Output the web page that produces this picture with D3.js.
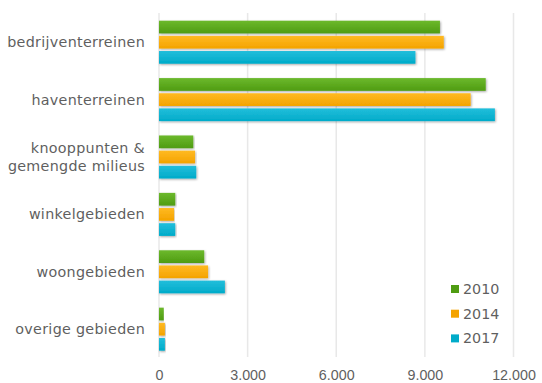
<!DOCTYPE html>
<html lang="nl">
<head>
<meta charset="UTF-8">
<title>Ruimtegebruik per type gebied</title>
<script src="https://cdnjs.cloudflare.com/ajax/libs/d3/7.8.5/d3.min.js"></script>
<style>
  body { margin:0; background:#fff; }
  svg { display:block; font-family:"DejaVu Sans", Verdana, sans-serif; }
  .lbl { fill:#5f5f5f; font-size:14.3px; }
  .cat { letter-spacing:0.3px; }
</style>
</head>
<body>
<svg id="chart" width="542" height="383"></svg>
<script>
  // categories (top to bottom) and values per year
  var categories = ["bedrijventerreinen", "haventerreinen", "knooppunten &\ngemengde milieus",
                    "winkelgebieden", "woongebieden", "overige gebieden"];
  var years = ["2010", "2014", "2017"];
  var values2010 = [9510, 11060, 1160, 550, 1530, 160];
  var values2014 = [9640, 10550, 1220, 510, 1660, 200];
  var values2017 = [8680, 11370, 1260, 550, 2230, 200];
  var xTicks = [0, 3000, 6000, 9000, 12000];

  var colors = { "2010": ["#6cb92c", "#4f9c12"], "2014": ["#ffba22", "#f4a300"], "2017": ["#22bedb", "#00abc9"] };
  var series = { "2010": values2010, "2014": values2014, "2017": values2017 };

  var svg = d3.select("#chart");
  var x = d3.scaleLinear().domain([0, 12000]).range([159, 513.5]);
  var y = d3.scaleBand().domain(categories).range([13, 358.4]).paddingInner(0.25).paddingOuter(0.134);
  var yInner = d3.scaleBand().domain(years).range([0, y.bandwidth()]).paddingInner(0.16);

  var nl = d3.formatLocale({ decimal: ",", thousands: ".", grouping: [3], currency: ["€", ""] });
  var fmt = nl.format(",");

  var defs = svg.append("defs");
  years.forEach(function (yr) {
    var g = defs.append("linearGradient").attr("id", "g" + yr)
      .attr("x1", 0).attr("y1", 0).attr("x2", 0).attr("y2", 1);
    g.append("stop").attr("offset", "0%").attr("stop-color", colors[yr][0]);
    g.append("stop").attr("offset", "100%").attr("stop-color", colors[yr][1]);
  });
  var f = defs.append("filter").attr("id", "shadow").attr("x", "-5%").attr("y", "-20%")
    .attr("width", "110%").attr("height", "160%");
  f.append("feDropShadow").attr("dx", 0.8).attr("dy", 1).attr("stdDeviation", 0.8)
    .attr("flood-color", "#000").attr("flood-opacity", 0.35);

  // gridlines
  svg.append("g").selectAll("line").data(xTicks).join("line")
    .attr("x1", d => x(d)).attr("x2", d => x(d))
    .attr("y1", 13).attr("y2", 357)
    .attr("stroke", "#e8e8e8").attr("stroke-width", 1.5);

  // x axis tick labels
  var xAxis = d3.axisBottom(x).tickValues(xTicks).tickFormat(fmt).tickSize(0).tickPadding(0);
  var ax = svg.append("g").attr("transform", "translate(0,369)").call(xAxis);
  ax.select(".domain").remove();
  ax.selectAll("text").attr("class", "lbl").attr("font-size", null).attr("font-family", null)
    .attr("dy", "0.75em");

  // bars
  years.forEach(function (yr) {
    svg.append("g").selectAll("rect").data(categories).join("rect")
      .attr("x", x(0))
      .attr("y", d => y(d) + yInner(yr))
      .attr("width", (d, i) => x(series[yr][i]) - x(0))
      .attr("height", yInner.bandwidth())
      .attr("fill", "url(#g" + yr + ")")
      .attr("filter", "url(#shadow)");
  });

  // category labels
  var yl = svg.append("g");
  categories.forEach(function (c) {
    var lines = c.split("\n");
    var cy = y(c) + y.bandwidth() / 2;
    var t = yl.append("text").attr("class", "lbl cat").attr("text-anchor", "end")
      .attr("x", 145).attr("y", cy - (lines.length - 1) * 9);
    lines.forEach(function (l, i) {
      t.append("tspan").attr("x", 145).attr("dy", i === 0 ? "0.35em" : 18).text(l);
    });
  });

  // legend
  var lg = svg.append("g").selectAll("g").data(years).join("g")
    .attr("transform", (d, i) => "translate(451," + (289 + i * 24.7) + ")");
  lg.append("rect").attr("x", 0).attr("y", -4).attr("width", 8).attr("height", 8)
    .attr("fill", d => colors[d][1]);
  lg.append("text").attr("class", "lbl").attr("x", 12).attr("dy", "0.35em").text(d => d);
</script>
</body>
</html>
